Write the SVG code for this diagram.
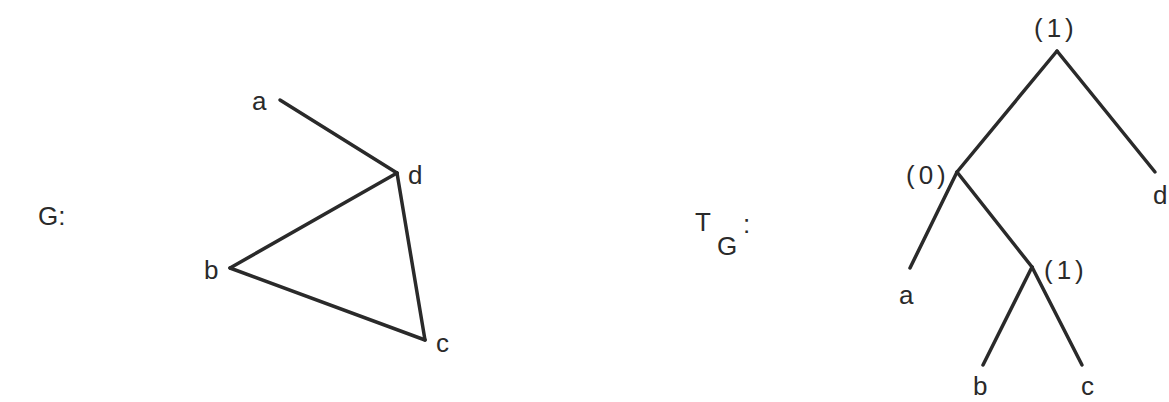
<svg xmlns="http://www.w3.org/2000/svg" width="1169" height="402" viewBox="0 0 1169 402">
<style>
text{font-family:"Liberation Sans",Arial,sans-serif;font-size:26px;fill:#2a2a2a}
.p{letter-spacing:4px}
.e{stroke:#2a2a2a;stroke-width:3.5;fill:none;stroke-linecap:round;stroke-linejoin:round}
</style>
<rect width="1169" height="402" fill="#fff"/>
<text x="38" y="225">G:</text>
<g id="connectors">
<line class="e" x1="280" y1="100" x2="397" y2="173"/>
<line class="e" x1="397" y1="173" x2="230" y2="268"/>
<line class="e" x1="397" y1="173" x2="425" y2="340"/>
<line class="e" x1="230" y1="268" x2="425" y2="340"/>
<line class="e" x1="1057" y1="51" x2="957" y2="172"/>
<line class="e" x1="1057" y1="51" x2="1155" y2="172"/>
<line class="e" x1="957" y1="172" x2="910" y2="268"/>
<line class="e" x1="957" y1="172" x2="1032" y2="267"/>
<line class="e" x1="1032" y1="267" x2="983" y2="365"/>
<line class="e" x1="1032" y1="267" x2="1082" y2="365"/>
</g>
<g id="node-a"><text x="252" y="110">a</text></g>
<g id="node-d"><text x="408" y="184">d</text></g>
<g id="node-b"><text x="204" y="279">b</text></g>
<g id="node-c"><text x="436" y="352">c</text></g>
<g id="label-TG"><text x="695" y="231">T</text><text x="717" y="255">G</text><text x="743" y="233">:</text></g>
<g id="tree-root"><text class="p" x="1034" y="37">(1)</text></g>
<g id="tree-0"><text class="p" x="906" y="184">(0)</text></g>
<g id="tree-1"><text class="p" x="1044" y="279">(1)</text></g>
<g id="tree-d"><text x="1153" y="204">d</text></g>
<g id="tree-a"><text x="899" y="304">a</text></g>
<g id="tree-b"><text x="973" y="395">b</text></g>
<g id="tree-c"><text x="1081" y="395">c</text></g>
</svg>
